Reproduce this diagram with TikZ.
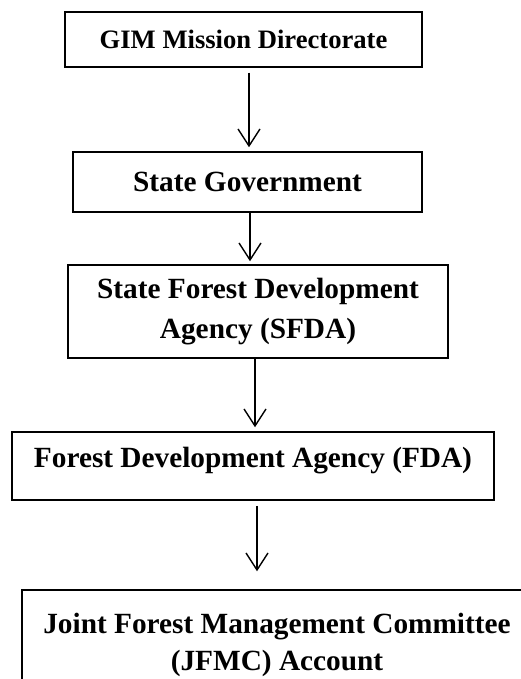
\documentclass[tikz,border=0pt]{standalone}
\usepackage{fontspec}
\setmainfont{Liberation Serif}
\usetikzlibrary{arrows.meta}
\begin{document}
\begin{tikzpicture}[x=1pt,y=-1pt,
  box/.style={draw,line width=1.5pt,rectangle,inner sep=0pt,align=center,font=\bfseries\fontsize{29.3}{40}\selectfont},
  arr/.style={line width=1.4pt,-{Straight Barb[length=17pt,width=22pt,line width=1.4pt]}}]
\useasboundingbox (0,0) rectangle (521,679);
\begin{scope}
\clip (0,0) rectangle (521,679);
\node[box,minimum width=357pt,minimum height=55pt,font=\bfseries\fontsize{26.6}{32}\selectfont] (b1) at (243.5,39.5) {GIM Mission Directorate};
\node[box,minimum width=349pt,minimum height=60pt] (b2) at (247.5,182) {State Government};
\node[box,minimum width=380pt,minimum height=93pt] (b3) at (258,311.5) {State Forest Development\\Agency (SFDA)};
\node[box,minimum width=482pt,minimum height=68pt,text height=20pt,text depth=17pt] (b4) at (253,466) {Forest Development Agency (FDA)};
\node[box,minimum width=510pt,minimum height=110pt,font=\bfseries\fontsize{29.3}{37}\selectfont] (b5) at (277,645) {Joint Forest Management Committee\\(JFMC) Account};
\end{scope}
\coordinate (a1) at (249,0);
\coordinate (a2) at (250,0);
\coordinate (a3) at (255,0);
\coordinate (a4) at (257,0);
\draw[arr,shorten <=5pt,shorten >=4pt] (b1.south -| a1) -- (b2.north -| a1);
\draw[arr,shorten >=3pt] (b2.south -| a2) -- (b3.north -| a2);
\draw[arr,shorten >=4pt] (b3.south -| a3) -- (b4.north -| a3);
\draw[arr,shorten <=5pt,shorten >=18pt] (b4.south -| a4) -- (b5.north -| a4);
\end{tikzpicture}
\end{document}
